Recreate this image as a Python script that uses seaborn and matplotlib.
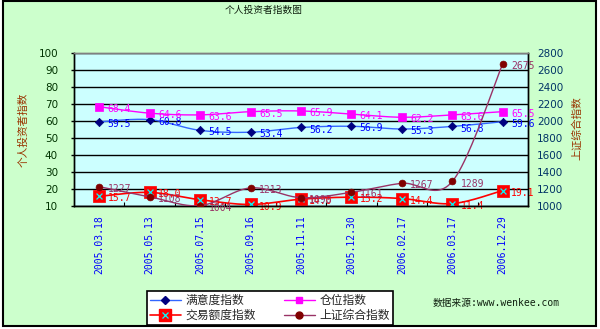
import numpy as np
import matplotlib
matplotlib.use("Agg")
import matplotlib.pyplot as plt
import seaborn as sns
import pandas as pd
from matplotlib.lines import Line2D
from matplotlib.patches import Rectangle
from matplotlib.legend_handler import HandlerTuple

# ---------------- data ----------------
dates = ["2005.03.18", "2005.05.13", "2005.07.15", "2005.09.16", "2005.11.11",
         "2005.12.30", "2006.02.17", "2006.03.17", "2006.12.29"]
satisfaction = [59.5, 60.8, 54.5, 53.4, 56.2, 56.9, 55.3, 56.8, 59.6]
position = [68.4, 64.6, 63.6, 65.5, 65.9, 64.1, 62.2, 63.6, 65.5]
trade = [15.7, 18.0, 13.7, 10.9, 14.0, 15.2, 14.4, 11.4, 19.1]
shindex = [1227, 1108, 1004, 1213, 1098, 1161, 1267, 1289, 2675]
left_ticks = list(range(10, 101, 10))
right_ticks = list(range(1000, 2801, 200))

series_names = ["满意度指数", "仓位指数", "交易额度指数", "上证综合指数"]

sns.set_theme(style="white")
plt.rcParams["font.family"] = ["Noto Sans CJK SC", "DejaVu Sans"]


def smooth(xs, ys, n=24):
    """Catmull-Rom style smoothing (like Excel's smoothed line)."""
    P = np.column_stack([xs, ys]).astype(float)
    P = np.vstack([P[0], P, P[-1]])
    outx, outy = [], []
    t = np.linspace(0, 1, n)
    for i in range(1, len(P) - 2):
        p0, p1, p2, p3 = P[i - 1], P[i], P[i + 1], P[i + 2]
        c1 = p1 + (p2 - p0) / 6.0
        c2 = p2 - (p3 - p1) / 6.0
        b = ((1 - t) ** 3)[:, None] * p1 + (3 * (1 - t) ** 2 * t)[:, None] * c1 \
            + (3 * (1 - t) * t ** 2)[:, None] * c2 + (t ** 3)[:, None] * p2
        if i > 1:
            b = b[1:]
        outx.extend(b[:, 0])
        outy.extend(b[:, 1])
    return np.array(outx), np.array(outy)


W, H = 600, 329
fig = plt.figure(figsize=(W / 100, H / 100), dpi=100)
fig.patch.set_facecolor("white")
fig.patches.append(Rectangle((3 / W, 3 / H), 593 / W, 325 / H, transform=fig.transFigure,
                             facecolor="#CCFFCC", edgecolor="black", lw=1.5, zorder=-10))

ax = fig.add_axes([74 / W, 1 - 206 / H, 454 / W, 153 / H])
ax.set_facecolor("#CCFFFF")
ax2 = ax.twinx()

x = np.arange(len(dates))

mono = "DejaVu Sans Mono"
lab_fs = 7


def draw(axis, yvals, line_color, mk, mk_face, mk_size, lab_color, fmt, lw=1.0, zo=3):
    sx, sy = smooth(x, yvals)
    df = pd.DataFrame({"x": sx, "y": sy})
    sns.lineplot(data=df, x="x", y="y", ax=axis, color=line_color, lw=lw,
                 sort=False, estimator=None, zorder=zo)
    dm = pd.DataFrame({"x": x, "y": yvals})
    sns.scatterplot(data=dm, x="x", y="y", ax=axis, marker=mk, s=mk_size,
                    color=mk_face, edgecolor=mk_face, linewidth=0.5, zorder=zo + 1)
    for xi, yi in zip(x, yvals):
        axis.annotate(fmt.format(yi), (xi, yi), xytext=(6, -1.5), textcoords="offset points",
                      ha="left", va="center", fontsize=lab_fs, family=mono, color=lab_color,
                      zorder=zo + 2)


draw(ax, satisfaction, "#3366FF", "D", "#000080", 18, "#0000FF", "{:.1f}")
draw(ax, position, "#FF00FF", "s", "#FF00FF", 30, "#FF00FF", "{:.1f}")
draw(ax, trade, "#FF0000", "s", "#FF0000", 70, "#FF0000", "{:.1f}", lw=1.2)
dx = pd.DataFrame({"x": x, "y": trade})
sns.scatterplot(data=dx, x="x", y="y", ax=ax, marker="x", s=18, color="#00FFFF",
                linewidth=0.9, zorder=6)
draw(ax2, shindex, "#993366", "o", "#800000", 24, "#993366", "{:d}")

# axes limits / ticks
ax.set_xlim(-0.5, len(dates) - 0.5)
ax.set_ylim(10, 100)
ax2.set_ylim(1000, 2800)
ax.set_yticks(left_ticks)
ax2.set_yticks(right_ticks)
ax.set_xticks(x)
ax.set_xticklabels(dates, rotation=90, family=mono, fontsize=7, color="#0000FF")
ax.set_xticks(np.arange(0.5, len(dates) - 1, 1.0), minor=True)
ax.tick_params(axis="x", which="major", length=0, pad=6.5)
ax.tick_params(axis="x", which="minor", direction="in", length=3, width=0.8, color="black",
               bottom=True)
ax.tick_params(axis="y", which="major", direction="out", length=2.5, width=1, color="black",
               pad=9, labelsize=7.5, labelcolor="#003300", left=True)
ax2.tick_params(axis="y", length=0, pad=6.5, labelsize=7.5, labelcolor="#003366")
for lab in ax.get_yticklabels() + ax2.get_yticklabels():
    lab.set_family("DejaVu Sans")

ax.set_xlabel("")
ax.set_ylabel("")
ax2.set_ylabel("")
ax.grid(False)
ax2.grid(False)
ax.yaxis.grid(True, color="black", lw=1.0)
ax.set_axisbelow(True)

for a in (ax, ax2):
    for s in ("left", "right", "bottom"):
        a.spines[s].set_color("black")
        a.spines[s].set_linewidth(1.0)
    a.spines["top"].set_color("#808080")
    a.spines["top"].set_linewidth(1.0)

# texts
fig.text(0.5 * (226 + 302) / W, 1 - 10 / H, "个人投资者指数图", ha="center", va="center",
         fontsize=7, color="#102010")
fig.text(23 / W, 1 - 130 / H, "个人投资者指数", rotation=90, ha="center", va="center",
         fontsize=7.7, color="#993300")
fig.text(577 / W, 1 - 128 / H, "上证综合指数", rotation=90, ha="center", va="center",
         fontsize=7.7, color="#993300")
fig.text(433 / W, 1 - 303 / H, "数据来源:www.wenkee.com", ha="left", va="center",
         fontsize=7, family=["DejaVu Sans Mono", "Noto Sans CJK SC"], color="#102010")

# legend
h1 = Line2D([], [], color="#3366FF", lw=1, marker="D", markersize=4,
            markerfacecolor="#000080", markeredgecolor="#000080")
h2 = Line2D([], [], color="#FF00FF", lw=1, marker="s", markersize=5,
            markerfacecolor="#FF00FF", markeredgecolor="#FF00FF")
h3a = Line2D([], [], color="#FF0000", lw=1.2, marker="s", markersize=8,
             markerfacecolor="#FF0000", markeredgecolor="#FF0000")
h3b = Line2D([], [], color="none", lw=0, marker="x", markersize=4,
             markeredgecolor="#00FFFF", markeredgewidth=0.9)
h4 = Line2D([], [], color="#993366", lw=1, marker="o", markersize=5,
            markerfacecolor="#800000", markeredgecolor="#800000")
leg = fig.legend([h1, (h3a, h3b), h2, h4],
                 [series_names[0], series_names[2], series_names[1], series_names[3]],
                 handler_map={tuple: HandlerTuple(ndivide=1, pad=0)},
                 ncol=2, loc="lower left", mode="expand",
                 bbox_to_anchor=(147 / W, 1 - 325 / H, 246 / W, 35 / H),
                 borderaxespad=0, fontsize=8.5, frameon=True, fancybox=False,
                 edgecolor="black", facecolor="white", framealpha=1,
                 handlelength=2.6, handletextpad=0.4, labelspacing=0.15,
                 borderpad=0.25, columnspacing=1.0)
leg.get_frame().set_linewidth(1.2)

fig.savefig("out.png", dpi=100, facecolor=fig.get_facecolor())
